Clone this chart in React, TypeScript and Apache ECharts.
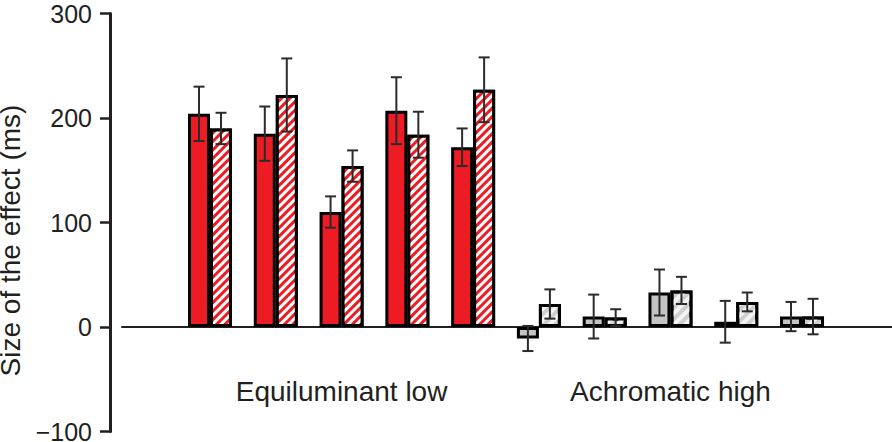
import React, { useEffect, useRef } from "react";
import * as echarts from "echarts";

// ----- data -----
const conditions = ["1", "2", "3", "4", "5", "6", "7", "8", "9", "10"];
const groupNames = ["Equiluminant low", "Achromatic high"];
const conditionGroup = [0, 0, 0, 0, 0, 1, 1, 1, 1, 1];
const solidValues = [204, 185, 110, 207, 172, -11, 10, 33, 5, 10];
const solidErrors = [26, 26, 15, 32, 18, 12, 21, 22, 20, 14];
const hatchValues = [190, 222, 154, 184, 227, 22, 9, 35, 24, 10];
const hatchErrors = [15, 35, 15, 22, 31, 14, 8, 13, 9, 17];
const yTicks = [-100, 0, 100, 200, 300];

const FONT = "'Liberation Sans', Arial, Helvetica, sans-serif";
const INK = "#231f20";
const RED = "#ed1c24";
const GRAY = "#c4c4c4";
const GRAY_HATCH = "#cfcfcf";
const BAR_W = 22;

const groupCenters = groupNames.map((_, g) => {
  const idx = conditions.map((_, i) => i).filter((i) => conditionGroup[i] === g);
  return idx.reduce((a, b) => a + b, 0) / idx.length;
});

export default function App() {
  const ref = useRef<HTMLDivElement>(null);
  useEffect(() => {
    if (!ref.current) return;
    const chart = echarts.init(ref.current, undefined, { renderer: "svg" });

    const redDecal = {
      symbol: "rect",
      symbolSize: 1,
      color: "#ffffff",
      dashArrayX: [1, 0],
      dashArrayY: [2.5, 2.5],
      rotation: -Math.PI / 4,
    };
    const grayDecal = {
      symbol: "rect",
      symbolSize: 1,
      color: "#f4f4f4",
      dashArrayX: [1, 0],
      dashArrayY: [4, 4],
      rotation: -Math.PI / 4,
    };

    const solidData = solidValues.map((v, i) => ({
      value: [i, v],
      itemStyle: { color: conditionGroup[i] === 0 ? RED : GRAY },
    }));
    const hatchData = hatchValues.map((v, i) => ({
      value: [i, v],
      itemStyle: {
        color: conditionGroup[i] === 0 ? RED : GRAY_HATCH,
        decal: conditionGroup[i] === 0 ? redDecal : grayDecal,
      },
    }));
    const errData: number[][] = [];
    solidValues.forEach((v, i) => errData.push([i, v, solidErrors[i], -1]));
    hatchValues.forEach((v, i) => errData.push([i, v, hatchErrors[i], 1]));

    const option: any = {
      animation: false,
      textStyle: { fontFamily: FONT, color: INK },
      grid: {
        left: 122,
        right: 0,
        top: 13.5,
        bottom: 10.5,
        containLabel: false,
        outerBoundsMode: "none",
      },
      xAxis: {
        type: "value",
        min: -1.338,
        max: 10.368,
        splitLine: { show: false },
        axisTick: { show: false },
        axisLine: { show: true, onZero: true, lineStyle: { color: INK, width: 2 } },
        axisLabel: {
          show: true,
          customValues: groupCenters,
          formatter: (val: number) => {
            const g = groupCenters.findIndex((c) => Math.abs(c - val) < 1e-6);
            return g >= 0 ? groupNames[g] : "";
          },
          fontSize: 28,
          color: INK,
          margin: -54,
          verticalAlign: "top",
          fontFamily: FONT,
        },
      },
      yAxis: {
        type: "value",
        min: yTicks[0],
        max: yTicks[yTicks.length - 1],
        interval: 100,
        offset: 12,
        splitLine: { show: false },
        axisLine: { show: true, onZero: false, lineStyle: { color: INK, width: 3 } },
        axisTick: { show: true, length: 10, lineStyle: { color: INK, width: 2.5 } },
        axisLabel: {
          fontSize: 25,
          color: INK,
          margin: 18,
          fontFamily: FONT,
          formatter: (v: number) => (v < 0 ? "\u2212" + Math.abs(v) : String(v)),
        },
        name: "Size of the effect (ms)",
        nameLocation: "middle",
        nameGap: 84,
        nameTextStyle: { fontSize: 28, color: INK, fontFamily: FONT, padding: [0, 36, 0, 0] },
      },
      series: [
        {
          type: "bar",
          name: "solid",
          data: solidData,
          barWidth: BAR_W,
          barGap: "0%",
          itemStyle: { borderColor: "#000", borderWidth: 3 },
          z: 2,
        },
        {
          type: "bar",
          name: "hatched",
          data: hatchData,
          barWidth: BAR_W,
          barGap: "0%",
          itemStyle: { borderColor: "#000", borderWidth: 3 },
          z: 2,
        },
        {
          type: "custom",
          name: "errors",
          z: 5,
          data: errData,
          renderItem: (params: any, api: any) => {
            const x = api.value(0);
            const v = api.value(1);
            const e = api.value(2);
            const side = api.value(3);
            const top = api.coord([x, v + e]);
            const bot = api.coord([x, v - e]);
            const cx = top[0] + (side * BAR_W) / 2;
            const cap = 5.5;
            const style = { stroke: "#2b2b2b", lineWidth: 2 };
            return {
              type: "group",
              children: [
                { type: "line", shape: { x1: cx, y1: top[1], x2: cx, y2: bot[1] }, style },
                { type: "line", shape: { x1: cx - cap, y1: top[1], x2: cx + cap, y2: top[1] }, style },
                { type: "line", shape: { x1: cx - cap, y1: bot[1], x2: cx + cap, y2: bot[1] }, style },
              ],
            };
          },
        },
      ],
    };
    chart.setOption(option);
    return () => chart.dispose();
  }, []);
  return (
    <div
      ref={ref}
      style={{ position: "absolute", left: 0, top: 0, width: 892, height: 442, background: "#fff" }}
    />
  );
}
